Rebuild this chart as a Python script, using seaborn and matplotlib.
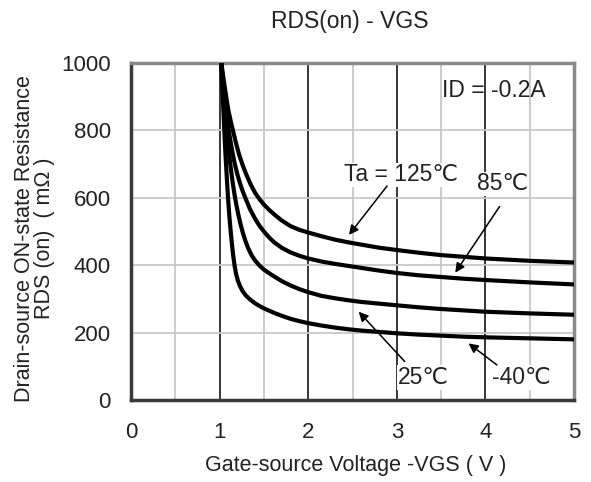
import matplotlib
matplotlib.use("Agg")
import matplotlib.pyplot as plt
import pandas as pd
import seaborn as sns

# ── data ──────────────────────────────────────────────────────────────────────
vgs_125 = [1.02, 1.04, 1.06, 1.08, 1.10, 1.125, 1.15, 1.185, 1.22, 1.26, 1.30,
           1.35, 1.40, 1.45, 1.50, 1.56, 1.62, 1.70, 1.80, 1.90, 2.00, 2.15,
           2.30, 2.45, 2.60, 2.80, 3.00, 3.25, 3.50, 3.75, 4.00, 4.50, 5.00]
rds_125 = [1000, 960, 925, 890, 858, 828, 800, 762, 728, 697, 670,
           640, 615, 596, 580, 564, 550, 533, 516, 505, 497, 486,
           476, 468, 461, 452, 445, 437, 430, 425, 420, 413, 408]

vgs_85 = [1.02, 1.035, 1.05, 1.065, 1.08, 1.10, 1.12, 1.145, 1.17, 1.20, 1.23,
          1.26, 1.29, 1.34, 1.40, 1.45, 1.50, 1.56, 1.62, 1.70, 1.80, 1.90,
          2.00, 2.15, 2.30, 2.45, 2.60, 2.80, 3.00, 3.25, 3.50, 3.75, 4.00,
          4.50, 5.00]
rds_85 = [1000, 955, 912, 875, 842, 805, 772, 735, 702, 670, 643,
          620, 600, 568, 538, 517, 500, 482, 467, 452, 438, 428,
          420, 411, 404, 398, 392, 384, 377, 370, 365, 360, 356,
          349, 343]

vgs_25 = [1.02, 1.035, 1.05, 1.065, 1.08, 1.095, 1.11, 1.125, 1.14, 1.155, 1.17,
          1.19, 1.21, 1.235, 1.26, 1.29, 1.32, 1.36, 1.40, 1.45, 1.50, 1.56,
          1.62, 1.70, 1.80, 1.90, 2.00, 2.15, 2.30, 2.45, 2.60, 2.80, 3.00,
          3.25, 3.50, 3.75, 4.00, 4.50, 5.00]
rds_25 = [1000, 940, 888, 842, 800, 760, 724, 690, 660, 632, 607,
          578, 552, 523, 498, 473, 452, 430, 414, 399, 387, 376,
          366, 353, 340, 329, 320, 309, 302, 296, 291, 286, 281,
          275, 270, 266, 262, 257, 253]

vgs_m40 = [1.02, 1.035, 1.05, 1.065, 1.08, 1.095, 1.11, 1.125, 1.14, 1.155,
           1.17, 1.185, 1.205, 1.23, 1.26, 1.30, 1.35, 1.40, 1.45, 1.50, 1.56,
           1.62, 1.70, 1.80, 1.90, 2.00, 2.15, 2.30, 2.45, 2.60, 2.80, 3.00,
           3.25, 3.50, 3.75, 4.00, 4.50, 5.00]
rds_m40 = [1000, 905, 815, 735, 665, 600, 545, 500, 460, 425,
           397, 375, 355, 338, 323, 309, 297, 287, 279, 272, 265,
           258, 250, 241, 234, 228, 221, 215, 210, 206, 202, 198,
           194, 191, 188, 186, 183, 180]

temps = ["125", "85", "25", "-40"]
x_ticks = [0, 1, 2, 3, 4, 5]
y_ticks = [0, 200, 400, 600, 800, 1000]

frames = []
for t, xs, ys in zip(temps, [vgs_125, vgs_85, vgs_25, vgs_m40],
                     [rds_125, rds_85, rds_25, rds_m40]):
    frames.append(pd.DataFrame({"vgs": xs, "rds": ys, "temp": t}))
df = pd.concat(frames, ignore_index=True)

sns.set_style("white")
plt.rcParams["font.family"] = ["Liberation Sans", "DejaVu Sans"]
TXT = "#222222"

fig = plt.figure(figsize=(5.91, 4.82), dpi=100)
ax = fig.add_axes([0.2217, 0.1701, 0.7495, 0.6992])

# grid: light minor lines, black majors on x
for xv in [0.5, 1.5, 2.5, 3.5, 4.5]:
    ax.axvline(xv, color="#c8c8c8", lw=1.3, zorder=1)
for xv in [1, 2, 3, 4]:
    ax.axvline(xv, color="black", lw=1.1, zorder=1)
for yv in [200, 400, 600, 800]:
    ax.axhline(yv, color="#c8c8c8", lw=1.3, zorder=1)

sns.lineplot(data=df, x="vgs", y="rds", hue="temp", estimator=None,
             palette=["black"] * 4, lw=3, legend=False, sort=False,
             ax=ax, zorder=3)
for ln in ax.lines:
    ln.set_solid_joinstyle("round")
    ln.set_solid_capstyle("butt")

ax.set_xlim(0, 5)
ax.set_ylim(0, 1000)
ax.set_xticks(x_ticks)
ax.set_yticks(y_ticks)
ax.tick_params(length=0, labelsize=16, colors=TXT)
ax.tick_params(axis="x", pad=15.5)
ax.tick_params(axis="y", pad=14.5)

for side in ["top", "right"]:
    ax.spines[side].set_color("#8a8a8a")
    ax.spines[side].set_linewidth(2.5)
for side in ["left", "bottom"]:
    ax.spines[side].set_color("#3a3a3a")
    ax.spines[side].set_linewidth(2.5)

ax.set_xlabel("Gate-source Voltage -VGS ( V )", fontsize=15.5, color=TXT)
ax.xaxis.set_label_coords(0.508, -0.193)
ax.set_ylabel("Drain-source ON-state Resistance\nRDS (on)  ( mΩ )",
              fontsize=15.5, color=TXT, linespacing=0.93)
ax.yaxis.set_label_coords(-0.217, 0.48)
ax.yaxis.label.set_va("center")
ax.xaxis.label.set_va("center")
ax.text(0.494, 1.122, "RDS(on) - VGS", transform=ax.transAxes,
        fontsize=16.5, color=TXT, ha="center", va="center")

ax.text(4.10, 917, "ID = -0.2A", fontsize=16.5, color=TXT,
        ha="center", va="center", zorder=4)

arrow = dict(arrowstyle="-|>", color="black", lw=1.1,
             mutation_scale=14, shrinkA=0, shrinkB=0)
labels = [
    ("Ta = 125℃", (3.05, 668), (2.89, 635), (2.46, 490)),
    ("85℃", (4.20, 641), (4.16, 574), (3.66, 378)),
    ("25℃", (3.30, 67), (3.09, 114), (2.57, 262)),
    ("-40℃", (4.41, 67), (4.13, 104), (3.81, 168)),
]
for txt, tpos, tail, head in labels:
    ax.text(*tpos, txt, fontsize=16.5, color=TXT, ha="center", va="center",
            zorder=4, bbox=dict(fc="white", ec="none", pad=0.5))
    ax.annotate("", xy=head, xytext=tail, arrowprops=arrow, zorder=4)

fig.savefig("out.png", dpi=100)
